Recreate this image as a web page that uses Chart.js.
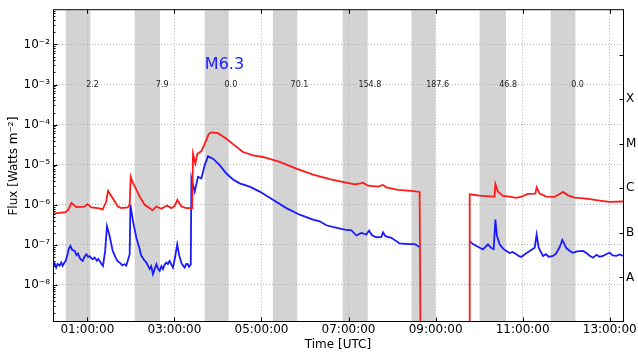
<!DOCTYPE html>
<html>
<head>
<meta charset="utf-8">
<title>GOES X-ray flux</title>
<script src="https://cdn.jsdelivr.net/npm/chart.js@4/dist/chart.umd.min.js"></script>
<style>
  html, body { margin: 0; padding: 0; background: #ffffff; }
  #wrap { width: 638px; height: 352px; }
</style>
</head>
<body>
<div id="wrap"><canvas id="goes" width="638" height="352"></canvas></div>
<script>
// Times are minutes after 00:00 UTC; fluxes in W m^-2.
// 1-8 Angstrom channel (red). DROPOUT marks the samples where the channel fell out.
const DROPOUT = 1e-10;
const longTime = [12.6, 30, 34, 38, 45, 56, 60, 65.5, 77, 81, 86, 88.4, 95, 102, 107, 115.5, 118.3,
  119.7, 122.4, 126.6, 132, 139, 146, 149.6, 155, 162, 169.7, 175.8, 180.3, 184, 189.6, 196.5, 204.5,
  205.6, 208.9, 211.6, 217.1, 221.7, 227.2, 230.9, 240, 251.6, 260.3, 274.5, 288.3, 302, 325, 348,
  371, 394, 414.7, 428.5, 436.7, 439.9, 446.8, 460.6, 467.5, 472.1, 488.1, 506.6, 518, 519.4, 553,
  586.5, 587, 600.8, 619.1, 621.2, 622.4, 626, 632.9, 642.1, 651.3, 658.2, 667.3, 677.5, 679.3,
  683.4, 692.7, 704.1, 711, 715.6, 722.5, 731.7, 747.8, 766.1, 779.9, 798.3];
const longFlux = [5.95e-7, 6.5e-7, 7.6e-7, 1.11e-6, 8.7e-7, 8.9e-7, 1.03e-6, 8.5e-7, 8.05e-7, 7.5e-7,
  1.2e-6, 2.2e-6, 1.45e-6, 9.0e-7, 8.2e-7, 8.5e-7, 9.9e-7,
  4.97e-6, 3.6e-6, 2.55e-6, 1.6e-6, 9.9e-7, 8.2e-7, 7.2e-7, 9.0e-7, 7.9e-7, 9.55e-7, 8.2e-7, 9.3e-7,
  1.32e-6, 9.0e-7, 8.2e-7, 8.2e-7,
  1.87e-5, 1.06e-5, 1.87e-5, 2.14e-5, 3.3e-5, 5.8e-5, 6.4e-5, 6.1e-5, 4.4e-5, 3.3e-5, 2.06e-5,
  1.71e-5, 1.55e-5, 1.17e-5, 7.96e-6,
  5.66e-6, 4.36e-6, 3.6e-6, 3.21e-6, 3.4e-6, 3.53e-6, 2.98e-6, 2.81e-6, 3.1e-6, 2.7e-6, 2.33e-6,
  2.2e-6, 2.08e-6, DROPOUT, null,
  DROPOUT, 1.82e-6, 1.69e-6, 1.59e-6, 1.59e-6, 3.28e-6, 2.12e-6, 1.66e-6, 1.59e-6, 1.48e-6, 1.59e-6,
  1.86e-6, 1.89e-6, 2.7e-6,
  1.89e-6, 1.59e-6, 1.57e-6, 1.84e-6, 2.08e-6, 1.71e-6, 1.5e-6, 1.42e-6, 1.27e-6, 1.18e-6, 1.2e-6];

// 0.5-4 Angstrom channel (blue).
const shortTime = [12.6, 15, 17, 19, 21.8, 24, 26, 28, 30.1, 32.8, 34.5, 36.6, 39, 42.5, 45, 47, 49.4,
  51.5, 53.5, 56, 58.6, 61, 63.2, 65.5, 67.3, 70, 73, 75, 77, 79, 81.5, 84.5, 87, 90.7, 94.9, 99,
  101.5, 104.5, 108, 111.4, 113.5, 115.6, 118.3, 119.3, 122.9, 127.5, 132.1, 134, 136.2, 138.5,
  141.3, 143.5, 145.9, 148, 150.4, 152.5, 155.1, 157.5, 159.7, 162, 164.2, 166.5, 168.9, 171, 173.4,
  175.5, 178, 181, 183.8, 186.5, 189.6, 192, 194.1, 196.3, 198.3, 200, 202.5, 203.4, 207.9, 212.5,
  217.1, 221.7, 226.2, 233.1, 242.4, 251.6, 260.7, 269.9, 283.7, 297.5, 315.8, 334.3, 352.6, 371,
  380.2, 389.4, 400.9, 414.7, 423.9, 430.8, 437.7, 444.6, 448.2, 452.3, 458.4, 465.3, 467.5, 470.8,
  479, 490.5, 501.9, 511.2, 518, 550,
  587, 591.5, 600.8, 605.3, 612.2, 616.9, 620.1, 622.4, 624.6, 628.3, 633, 637.6, 642, 646, 651.3,
  655, 658.2, 662, 666, 669.7, 676.6, 679.3, 682.1, 688, 692, 696, 701.8, 706, 711, 714.7, 720.2,
  725, 729.3, 735, 743.1, 748, 752, 756.9, 762, 766, 770.7, 775, 780, 784, 789.2, 794, 798.3];
const shortFlux = [2.96e-8, 3.4e-8, 2.7e-8, 3.3e-8, 3.0e-8, 3.6e-8, 3.0e-8, 3.5e-8, 3.95e-8, 5.9e-8,
  8.0e-8, 9.3e-8, 7.5e-8, 7.0e-8, 5.5e-8, 6.0e-8, 4.75e-8,
  4.2e-8, 3.95e-8, 5.0e-8, 5.8e-8, 5.0e-8, 5.2e-8, 4.6e-8, 4.35e-8, 4.8e-8, 4.0e-8, 4.4e-8, 3.95e-8,
  3.4e-8, 2.96e-8, 7.0e-8, 2.9e-7, 1.64e-7, 7.0e-8, 4.75e-8,
  3.9e-8, 3.58e-8, 3.1e-8, 3.27e-8, 3.0e-8, 3.95e-8, 5.8e-8, 9.9e-7, 3.84e-7, 1.49e-7, 7.7e-8, 5.5e-8,
  4.75e-8, 4.1e-8,
  3.58e-8, 3.0e-8, 2.5e-8, 2.9e-8, 1.85e-8, 2.4e-8, 3.27e-8, 2.5e-8, 2.23e-8, 2.9e-8, 2.46e-8, 3.2e-8,
  3.58e-8, 3.3e-8, 3.95e-8,
  3.3e-8, 2.69e-8, 5.0e-8, 1.02e-7, 5.5e-8, 3.5e-8, 3.0e-8, 2.69e-8, 3.3e-8, 3.27e-8, 2.8e-8, 3.2e-8,
  4.51e-6, 2.12e-6, 4.97e-6,
  4.51e-6, 9.66e-6, 1.61e-5, 1.41e-5, 9.66e-6, 6.0e-6, 4.27e-6, 3.4e-6, 2.81e-6, 2.12e-6, 1.32e-6,
  8.2e-7, 5.62e-7, 4.23e-7,
  3.84e-7, 3.06e-7, 2.73e-7, 2.39e-7, 2.3e-7, 1.7e-7, 1.97e-7, 1.8e-7, 2.26e-7, 1.73e-7, 1.54e-7,
  1.56e-7, 2.05e-7, 1.64e-7,
  1.49e-7, 1.08e-7, 1.04e-7, 1.04e-7, 8.75e-8, null,
  1.23e-7, 1.04e-7, 8.4e-8, 7.67e-8, 1.02e-7, 8.26e-8, 7.8e-8, 4.23e-7, 1.64e-7, 1.02e-7, 8.0e-8,
  7.0e-8, 6.2e-8, 6.6e-8, 5.8e-8,
  5.2e-8, 4.95e-8, 5.6e-8, 6.3e-8, 7.0e-8, 8.4e-8, 1.8e-7, 8.4e-8, 5.25e-8, 5.8e-8, 5.0e-8, 5.25e-8,
  6.0e-8, 8.75e-8, 1.32e-7, 8.26e-8,
  7.0e-8, 6.3e-8, 6.8e-8, 7.0e-8, 6.2e-8, 5.4e-8, 4.75e-8, 5.6e-8, 5.0e-8, 5.25e-8, 5.8e-8, 6.3e-8,
  5.4e-8, 5.25e-8, 5.7e-8, 5.25e-8];

// Shaded intervals (start/end, minutes UTC) and the value printed beside each one.
const bandStart = [30.1, 125.2, 221.7, 315.8, 411.9, 506.7, 600.7, 698.6];
const bandEnd   = [64.1, 160.1, 254.8, 349.4, 446.4, 539.8, 637.0, 732.7];
const bandValue = ['2.2', '7.9', '0.0', '70.1', '154.8', '187.6', '46.8', '0.0'];
const bandValueFlux = 1e-3;

// Flare class annotation.
const flareLabel = 'M6.3';
const flareTime = 249;
const flareFlux = 2.45e-3;

// Axis ticks and ranges.
const hourTicks = [1, 3, 5, 7, 9, 11, 13];
const fluxDecades = [-8, -7, -6, -5, -4, -3, -2];
const classDecades = [-8, -7, -6, -5, -4, -3];
const classLetters = ['A', 'B', 'C', 'M', 'X', ''];
const timeRange = [12.6, 798.3];
const fluxRange = [1.178e-9, 7.16e-2];
const classRange = [1e-9, 1e-2];

const SUP = {'-': '\u207B', '0': '\u2070', '1': '\u00B9', '2': '\u00B2', '3': '\u00B3', '4': '\u2074',
  '5': '\u2075', '6': '\u2076', '7': '\u2077', '8': '\u2078', '9': '\u2079'};
const sup = s => String(s).split('').map(c => SUP[c] || c).join('');
const pad2 = n => String(n).padStart(2, '0');

const toPoints = (ts, vs) => ts.map((t, i) => ({x: t, y: vs[i]}));

const FONT = 'DejaVu Sans';
Chart.defaults.font.family = FONT;
Chart.defaults.color = '#000000';

const decor = {
  id: 'decor',
  beforeDraw(chart) {
    const {ctx, chartArea: a, scales: {x}} = chart;
    ctx.save();
    ctx.fillStyle = '#d3d3d3';
    bandStart.forEach((s, i) => {
      const x0 = x.getPixelForValue(s);
      const x1 = x.getPixelForValue(bandEnd[i]);
      ctx.fillRect(x0, a.top, x1 - x0, a.bottom - a.top);
    });
    ctx.restore();
  },
  afterDatasetsDraw(chart) {
    const {ctx, scales: {x, y}} = chart;
    ctx.save();
    ctx.fillStyle = '#222222';
    ctx.font = '8px "' + FONT + '"';
    ctx.textAlign = 'center';
    ctx.textBaseline = 'middle';
    const yv = y.getPixelForValue(bandValueFlux);
    bandEnd.forEach((e, i) => {
      ctx.fillText(bandValue[i], x.getPixelForValue(e + 3), yv);
    });
    ctx.fillStyle = '#1a1aff';
    ctx.font = '16px "' + FONT + '"';
    ctx.textBaseline = 'alphabetic';
    ctx.fillText(flareLabel, x.getPixelForValue(flareTime), y.getPixelForValue(flareFlux));
    ctx.restore();
  },
  afterDraw(chart) {
    const {ctx, chartArea: a, scales: {x, y, cls}} = chart;
    const L = a.left + 0.5, R = a.right + 0.5, T = a.top - 0.5, B = a.bottom - 0.5;
    ctx.save();
    ctx.strokeStyle = '#000000';
    ctx.lineWidth = 1;
    ctx.beginPath();
    // inward ticks: time axis, bottom and top
    hourTicks.forEach(h => {
      const px = Math.round(x.getPixelForValue(h * 60)) + 0.5;
      ctx.moveTo(px, B); ctx.lineTo(px, B - 4);
      ctx.moveTo(px, T); ctx.lineTo(px, T + 4);
    });
    // flux axis: decades and minor ticks on the left spine
    for (let d = -9; d <= -2; d++) {
      for (let k = 1; k <= 9; k++) {
        const v = k * Math.pow(10, d);
        if (v < fluxRange[0] || v > fluxRange[1]) continue;
        const py = Math.round(y.getPixelForValue(v)) + 0.5;
        ctx.moveTo(L, py); ctx.lineTo(L + (k === 1 ? 4 : 2), py);
      }
    }
    // class axis on the right spine
    classDecades.forEach(d => {
      const py = Math.round(cls.getPixelForValue(Math.pow(10, d))) + 0.5;
      ctx.moveTo(R, py); ctx.lineTo(R - 4, py);
    });
    ctx.stroke();
    ctx.strokeRect(L, T, R - L, B - T);
    ctx.restore();
  }
};

new Chart(document.getElementById('goes'), {
  type: 'line',
  data: {
    datasets: [
      {
        label: '1.0--8.0 \u00C5',
        data: toPoints(longTime, longFlux),
        borderColor: '#ff1a1a',
        borderWidth: 1.8,
        pointRadius: 0,
        tension: 0,
        fill: false,
        spanGaps: false,
        clip: 0
      },
      {
        label: '0.5--4.0 \u00C5',
        data: toPoints(shortTime, shortFlux),
        borderColor: '#1a1aff',
        borderWidth: 1.8,
        pointRadius: 0,
        tension: 0,
        fill: false,
        spanGaps: false,
        clip: 0
      }
    ]
  },
  options: {
    responsive: false,
    animation: false,
    devicePixelRatio: 1,
    layout: { padding: { top: 7, left: 0, right: 0, bottom: 0 } },
    plugins: { legend: { display: false }, tooltip: { enabled: false } },
    scales: {
      x: {
        type: 'linear',
        position: 'bottom',
        min: timeRange[0],
        max: timeRange[1],
        afterBuildTicks: s => { s.ticks = hourTicks.map(h => ({ value: h * 60 })); },
        afterFit: s => { s.height = 30; },
        ticks: {
          padding: 1,
          maxRotation: 0,
          autoSkip: false,
          font: { size: 12 },
          callback: v => pad2(Math.round(v / 60)) + ':00:00'
        },
        grid: { color: '#b4b4b4', lineWidth: 1, drawTicks: false },
        border: { display: false, dash: [1, 2] },
        title: { display: true, text: 'Time [UTC]', font: { size: 12 }, padding: { top: 0, bottom: 0 } }
      },
      y: {
        type: 'logarithmic',
        position: 'left',
        min: fluxRange[0],
        max: fluxRange[1],
        afterBuildTicks: s => { s.ticks = fluxDecades.map(d => ({ value: Math.pow(10, d) })); },
        afterFit: s => { s.width = 53; },
        ticks: {
          padding: 3,
          autoSkip: false,
          font: { size: 12 },
          callback: v => '10' + sup(Math.round(Math.log10(v)))
        },
        grid: { color: '#b4b4b4', lineWidth: 1, drawTicks: false },
        border: { display: false, dash: [1, 2] },
        title: { display: true, text: 'Flux [Watts m' + sup(-2) + ']', font: { size: 12 }, padding: { top: 7, bottom: 0 } }
      },
      cls: {
        type: 'logarithmic',
        position: 'right',
        min: classRange[0],
        max: classRange[1],
        afterBuildTicks: s => { s.ticks = classDecades.map(d => ({ value: Math.pow(10, d) })); },
        afterFit: s => { s.width = 15; },
        ticks: {
          padding: 3,
          autoSkip: false,
          font: { size: 12 },
          callback: v => classLetters[classDecades.indexOf(Math.round(Math.log10(v)))]
        },
        grid: { display: false, drawOnChartArea: false, drawTicks: false },
        border: { display: false }
      }
    }
  },
  plugins: [decor]
});
</script>
</body>
</html>
